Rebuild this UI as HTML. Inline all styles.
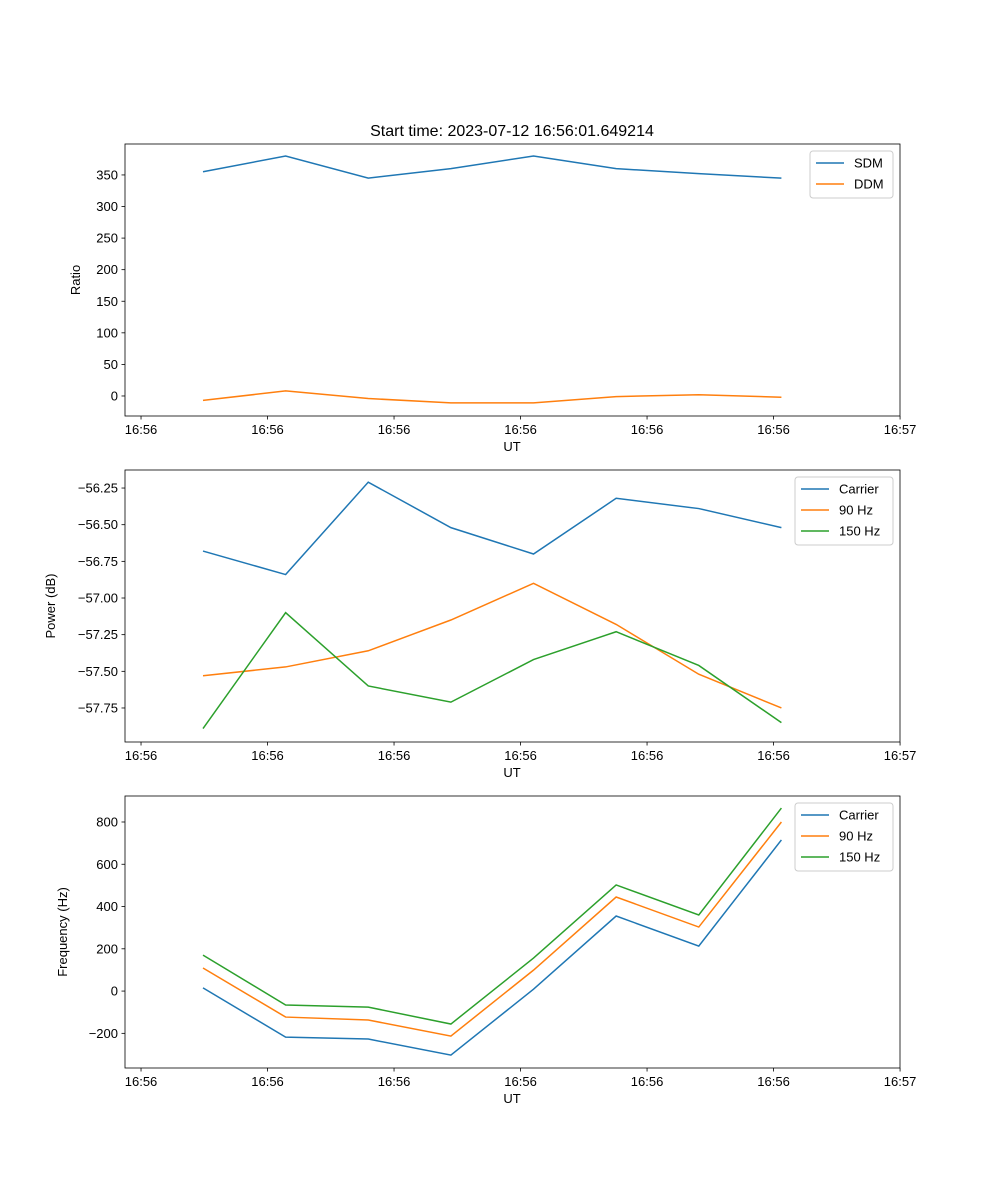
<!DOCTYPE html>
<html><head><meta charset="utf-8"><style>
body{margin:0;background:#fff}
svg{display:block;font-family:"Liberation Sans","DejaVu Sans",sans-serif}
</style></head><body>
<svg id="fig" width="1000" height="1200" xmlns="http://www.w3.org/2000/svg">
<text x="512" y="136" text-anchor="middle" font-size="16">Start time: 2023-07-12 16:56:01.649214</text>
</svg>
<script>
const xTickLabels = ["16:56","16:56","16:56","16:56","16:56","16:56","16:57"];
const xTickIdx = [-0.75,0.781,2.312,3.843,5.374,6.905,8.436];
const sdm = [355,380,345,360,380,360,352,345];
const ddm = [-7,8,-4,-11,-11,-1,2,-2];
const pCarrier = [-56.68,-56.84,-56.21,-56.52,-56.70,-56.32,-56.39,-56.52];
const p90 = [-57.53,-57.47,-57.36,-57.15,-56.90,-57.18,-57.52,-57.75];
const p150 = [-57.89,-57.10,-57.60,-57.71,-57.42,-57.23,-57.46,-57.85];
const fCarrier = [15,-218,-227,-303,9,355,213,715];
const f90 = [109,-123,-137,-213,99,445,303,800];
const f150 = [170,-66,-76,-156,156,502,360,866];
const ticks1 = [0,50,100,150,200,250,300,350];
const ticks2 = [-57.75,-57.5,-57.25,-57,-56.75,-56.5,-56.25];
const ticks3 = [-200,0,200,400,600,800];
const C=["#1f77b4","#ff7f0e","#2ca02c"];
const svg=document.getElementById('fig');
const NS="http://www.w3.org/2000/svg";
function mk(tag,attrs,parent){const e=document.createElementNS(NS,tag);for(const k in attrs)e.setAttribute(k,attrs[k]);(parent||svg).appendChild(e);return e;}
const L=125,R=900;
function xs(i){return L+78+82.63*i;}
function panel(top,bot,ymin,ymax,yt,fmt,ylabel,series,names,leg,pname){
  const g=mk('g',{});
  
  
  const ys=v=>bot-(v-ymin)/(ymax-ymin)*(bot-top);
  series.forEach((s,k)=>{
    const p=mk('polyline',{points:s.map((v,i)=>xs(i)+','+ys(v)).join(' '),fill:'none',stroke:C[k],'stroke-width':1.5},g);
    
    
  });
  const fr=mk('rect',{x:L,y:top,width:R-L,height:bot-top,fill:'none',stroke:'#000','stroke-width':0.8},g);
  
  
  xTickIdx.forEach((t,i)=>{const x=xs(t);mk('line',{x1:x,x2:x,y1:bot,y2:bot+3.5,stroke:'#000','stroke-width':0.8},g);
    const tx=mk('text',{x:x,y:bot+18,'text-anchor':'middle','font-size':13},g);tx.textContent=xTickLabels[i];
    
    });
  yt.forEach(v=>{const y=ys(v);mk('line',{x1:L-3.5,x2:L,y1:y,y2:y,stroke:'#000','stroke-width':0.8},g);
    const tx=mk('text',{x:L-7,y:y+4.5,'text-anchor':'end','font-size':13},g);tx.textContent=fmt(v).replace('-','\u2212');
    
    });
  const xl=mk('text',{x:512,y:bot+35,'text-anchor':'middle','font-size':13},g);xl.textContent='UT';
  
  
  const yl=mk('text',{x:0,y:0,'text-anchor':'middle','font-size':13,transform:`translate(${leg.yx},${(top+bot)/2}) rotate(-90)`},g);yl.textContent=ylabel;
  
  
  const lg=mk('g',{},g);
  
  
  mk('rect',{x:leg.x,y:top+7,width:R-7-leg.x,height:names.length*21+5,rx:3,fill:'#fff','fill-opacity':0.8,stroke:'#ccc'},lg);
  names.forEach((n,k)=>{const y=top+19+k*21;
    mk('line',{x1:leg.x+6,x2:leg.x+34,y1:y,y2:y,stroke:C[k],'stroke-width':1.5},lg);
    const t=mk('text',{x:leg.x+44,y:y+4.5,'font-size':13},lg);t.textContent=n;
    
    });
}
panel(144,416,-31.7,399,ticks1,v=>String(v),'Ratio',[sdm,ddm],['SDM','DDM'],{x:810,yx:80},'ratio-panel');
panel(470,742,-57.982,-56.127,ticks2,v=>v.toFixed(2),'Power (dB)',[pCarrier,p90,p150],['Carrier','90 Hz','150 Hz'],{x:795,yx:55},'power-panel');
panel(796,1068,-364,923,ticks3,v=>String(v),'Frequency (Hz)',[fCarrier,f90,f150],['Carrier','90 Hz','150 Hz'],{x:795,yx:67},'frequency-panel');
</script>
</body></html>
